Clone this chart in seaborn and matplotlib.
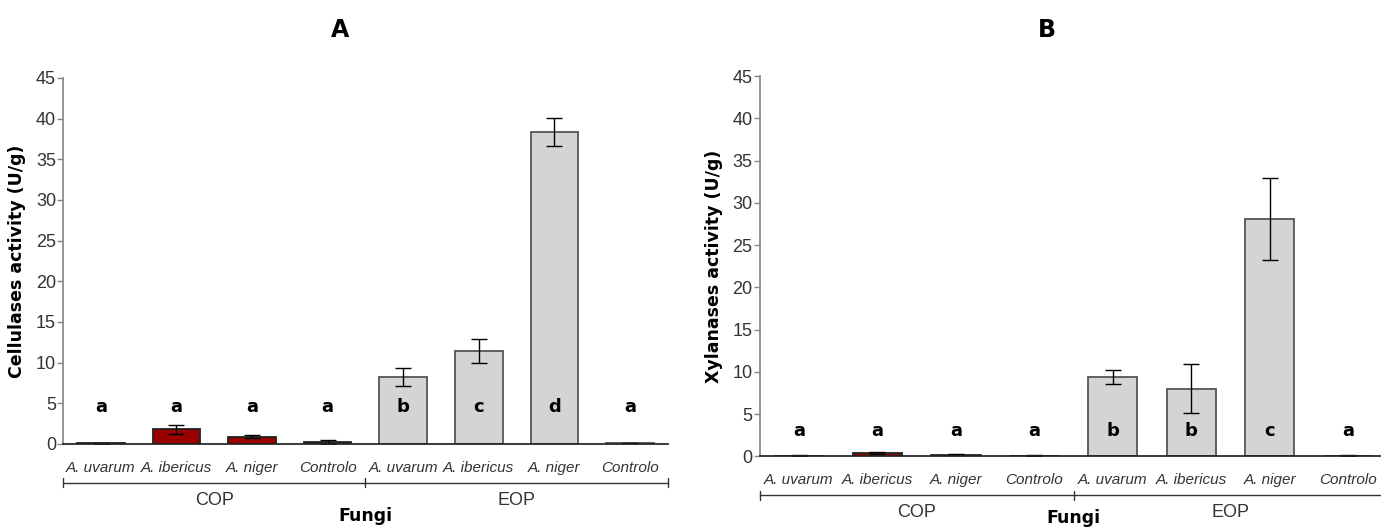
import matplotlib
matplotlib.use("Agg")
import matplotlib.pyplot as plt
import matplotlib.transforms as mtransforms
import seaborn as sns
import pandas as pd

sns.set_theme(style="white")
plt.rcParams['font.family'] = ['Liberation Sans Narrow', 'Liberation Sans', 'DejaVu Sans']

# data
fungi = ["A. uvarum", "A. ibericus", "A. niger", "Controlo"] * 2
groups = ["COP"] * 4 + ["EOP"] * 4

cel_mean = [0.1, 1.8, 0.9, 0.25, 8.2, 11.4, 38.4, 0.1]
cel_err = [0.05, 0.55, 0.2, 0.2, 1.1, 1.5, 1.7, 0.02]
cel_letters = ["a", "a", "a", "a", "b", "c", "d", "a"]

xyl_mean = [0.1, 0.45, 0.2, 0.1, 9.4, 8.0, 28.1, 0.1]
xyl_err = [0.03, 0.12, 0.08, 0.03, 0.8, 2.9, 4.9, 0.05]
xyl_letters = ["a", "a", "a", "a", "b", "b", "c", "a"]

palette = {"COP": "#9b0000", "EOP": "#d4d4d4"}
edges = {"COP": "#222222", "EOP": "#555555"}
axis_col = "#888888"
text_col = "#333333"


def panel(ax, means, errs, letters, ylabel, letter_y, br_y, grp_y, fungi_y):
    df = pd.DataFrame({"pos": range(8), "val": means, "grp": groups})
    sns.barplot(data=df, x="pos", y="val", hue="grp", palette=palette,
                dodge=False, width=0.63, ax=ax, legend=False, errorbar=None,
                saturation=1)
    for bar, g in zip(ax.patches, groups):
        bar.set_edgecolor(edges[g])
        bar.set_linewidth(1.3)
    ax.errorbar(df["pos"], means, yerr=errs, fmt="none", ecolor="black",
                elinewidth=1, capsize=6, capthick=1)
    for i, l in enumerate(letters):
        ax.text(i, letter_y, l, ha="center", va="center", fontsize=13,
                fontweight="bold", color="black", family="DejaVu Sans")

    ax.set_xlim(-0.5, 7.5)
    ax.set_ylim(0, 45)
    ax.set_yticks(range(0, 46, 5))
    ax.set_xticks(range(8))
    ax.set_xticklabels(fungi, style="italic", fontsize=11, color=text_col)
    ax.tick_params(axis="x", length=0, pad=12)
    ax.tick_params(axis="y", length=4, width=1, color=axis_col, labelsize=13,
                   labelcolor=text_col, pad=1, left=True, direction="out")
    ax.set_xlabel("")
    ax.set_ylabel(ylabel, fontsize=12.5, fontweight="bold", family="DejaVu Sans",
                  labelpad=7, color="black")
    sns.despine(ax=ax)
    ax.spines["left"].set_color(axis_col)
    ax.spines["bottom"].set_color("#222222")

    trans = mtransforms.blended_transform_factory(ax.transData, ax.transAxes)
    ax.plot([-0.5, 7.5], [br_y, br_y], color="#333333", lw=1, transform=trans,
            clip_on=False)
    for xb in [-0.5, 3.5, 7.5]:
        ax.plot([xb, xb], [br_y - 0.012, br_y + 0.012], color="#333333", lw=1,
                transform=trans, clip_on=False)
    ax.text(1.5, grp_y, "COP", ha="center", va="center", fontsize=13,
            color=text_col, transform=trans)
    ax.text(5.5, grp_y, "EOP", ha="center", va="center", fontsize=13,
            color=text_col, transform=trans)
    ax.text(3.5, fungi_y, "Fungi", ha="center", va="center", fontsize=12.5,
            fontweight="bold", family="DejaVu Sans", color="black",
            transform=trans)


fig = plt.figure(figsize=(13.81, 5.27), dpi=100)
ax1 = fig.add_axes([0.0456, 0.1575, 0.438, 0.6945])
ax2 = fig.add_axes([0.550, 0.134, 0.4547, 0.7216])

panel(ax1, cel_mean, cel_err, cel_letters, "Cellulases activity (U/g)",
      4.6, -0.106, -0.155, -0.196)
panel(ax2, xyl_mean, xyl_err, xyl_letters, "Xylanases activity (U/g)",
      3.0, -0.102, -0.148, -0.162)

fig.text(0.246, 0.943, "A", ha="center", va="center", fontsize=17,
         fontweight="bold", family="DejaVu Sans", color="black")
fig.text(0.758, 0.943, "B", ha="center", va="center", fontsize=17,
         fontweight="bold", family="DejaVu Sans", color="black")

fig.savefig("out.png", dpi=100)
